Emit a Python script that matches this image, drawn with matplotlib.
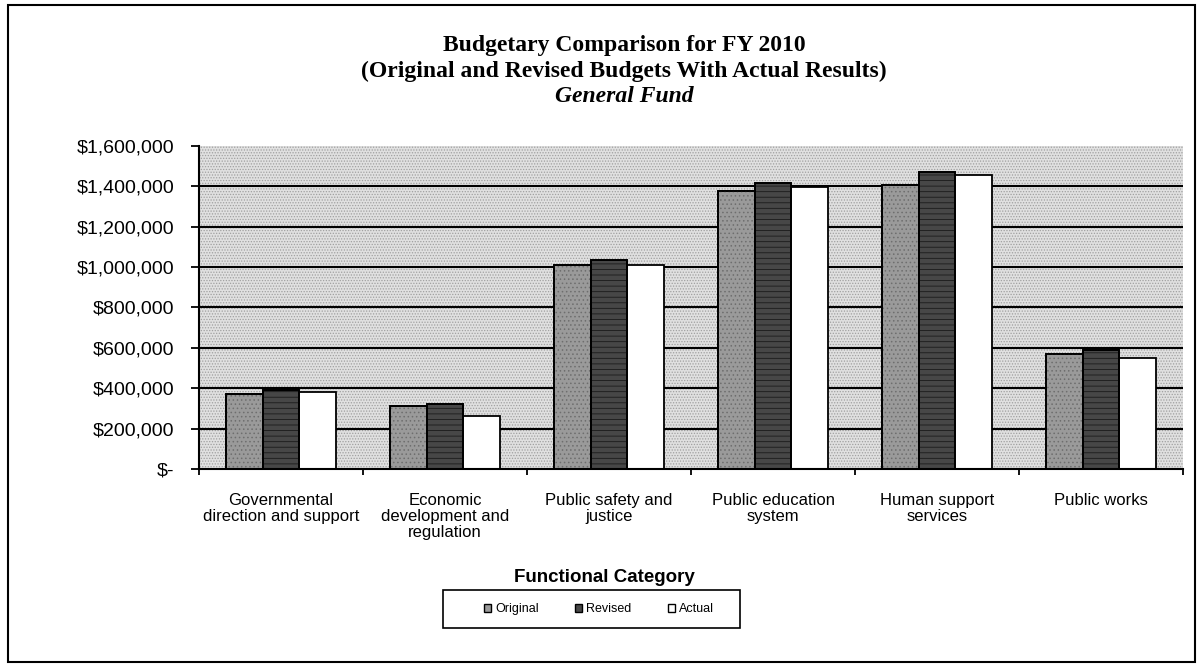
import matplotlib
matplotlib.use("Agg")
import matplotlib.pyplot as plt
import numpy as np
from matplotlib.patches import Rectangle
from matplotlib.ticker import FuncFormatter, FixedLocator

# FY 2010 general fund budget by functional category
categories = [
    "Governmental\ndirection and support",
    "Economic\ndevelopment and\nregulation",
    "Public safety and\njustice",
    "Public education\nsystem",
    "Human support\nservices",
    "Public works",
]
original = [371000, 310000, 1010000, 1377000, 1405000, 570000]
revised = [391000, 322000, 1037000, 1415000, 1470000, 590000]
actual = [380000, 262000, 1012000, 1395000, 1456000, 550000]
series_names = ["Original", "Revised", "Actual"]
y_ticks = [0, 200000, 400000, 600000, 800000, 1000000, 1200000, 1400000, 1600000]

plt.rcParams["font.family"] = ["Liberation Sans", "DejaVu Sans"]
plt.rcParams["hatch.linewidth"] = 0.6

W, H = 1200, 668
fig = plt.figure(figsize=(W / 100, H / 100), dpi=100)
fig.patch.set_facecolor("white")

# plot area in pixel terms
ax = fig.add_axes([199 / W, 1 - 469 / H, 984 / W, 323 / H])
ax.set_facecolor("#e0e0e0")
ax.add_patch(Rectangle((0, 0), 1, 1, transform=ax.transAxes, facecolor="none",
                       edgecolor="#a0a0a0", hatch="......", lw=0, zorder=0))

x = np.arange(len(categories))
w = 0.2236
styles = [
    dict(color="#9a9a9a", hatch="....", hatch_col="#6e6e6e"),
    dict(color="#474747", hatch="---", hatch_col="#1a1a1a"),
    dict(color="white", hatch=None, hatch_col="white"),
]
for j, (vals, st) in enumerate(zip([original, revised, actual], styles)):
    pos = x + (j - 1) * w
    ax.bar(pos, vals, width=w, color=st["color"], edgecolor="black",
           linewidth=1.3, zorder=3, label=series_names[j])
    if st["hatch"]:
        ax.bar(pos, vals, width=w, color="none", edgecolor=st["hatch_col"],
               hatch=st["hatch"], linewidth=0, zorder=3.5)
        ax.bar(pos, vals, width=w, color="none", edgecolor="black",
               linewidth=1.3, zorder=4)

# horizontal gridlines (none along the top edge)
for v in y_ticks[1:-1]:
    ax.axhline(v, color="black", lw=1.5, zorder=1)

ax.set_xlim(-0.5, len(categories) - 0.5)
ax.set_ylim(0, 1600000)
ax.set_yticks(y_ticks)
ax.yaxis.set_major_formatter(FuncFormatter(lambda v, p: "$-" if v == 0 else f"${v:,.0f}"))
ax.tick_params(axis="y", direction="out", length=6, width=1.3, pad=12, labelsize=14)

ax.set_xticks(x)
ax.set_xticklabels(categories, fontsize=12, linespacing=1.1)
ax.tick_params(axis="x", which="major", length=0, pad=17)
ax.xaxis.set_minor_locator(FixedLocator(np.arange(-0.5, len(categories), 1.0)))
ax.tick_params(axis="x", which="minor", direction="out", length=4, width=1.3)

for s in ["top", "right"]:
    ax.spines[s].set_visible(False)
for s in ["left", "bottom"]:
    ax.spines[s].set_linewidth(1.5)
    ax.spines[s].set_zorder(5)

# title block
cx = 0.52
fig.text(cx, 1 - 45 / H, "Budgetary Comparison for FY 2010", ha="center", va="center",
         fontsize=17, fontweight="bold", family="Liberation Serif")
fig.text(cx, 1 - 71 / H, "(Original and Revised Budgets With Actual Results)", ha="center",
         va="center", fontsize=17, fontweight="bold", family="Liberation Serif")
fig.text(cx, 1 - 97 / H, "General Fund", ha="center", va="center", fontsize=17,
         fontweight="bold", fontstyle="italic", family="Liberation Serif")

fig.text(604 / W, 1 - 577 / H, "Functional Category", ha="center", va="center",
         fontsize=13.5, fontweight="bold")

# legend with its own box
lx0, lx1, ly0, ly1 = 443, 740, 590, 628
fig.patches.append(Rectangle((lx0 / W, 1 - ly1 / H), (lx1 - lx0) / W, (ly1 - ly0) / H,
                             transform=fig.transFigure, fill=False, edgecolor="black",
                             lw=1.2))
handles = [Rectangle((0, 0), 1, 1, facecolor=st["color"], edgecolor="black", lw=1.0)
           for st in styles]
fig.legend(handles, series_names, loc="center",
           bbox_to_anchor=((lx0 + lx1) / 2 / W + 0.006, 1 - (ly0 + ly1) / 2 / H),
           ncol=3, frameon=False, fontsize=9, handlelength=0.6, handleheight=0.6,
           handletextpad=0.3, columnspacing=2.9)

# outer chart border
fig.patches.append(Rectangle((8 / W, 1 - 662 / H), 1187 / W, 657 / H,
                             transform=fig.transFigure, fill=False, edgecolor="black",
                             lw=1.5))

fig.savefig("out.png", dpi=100)
